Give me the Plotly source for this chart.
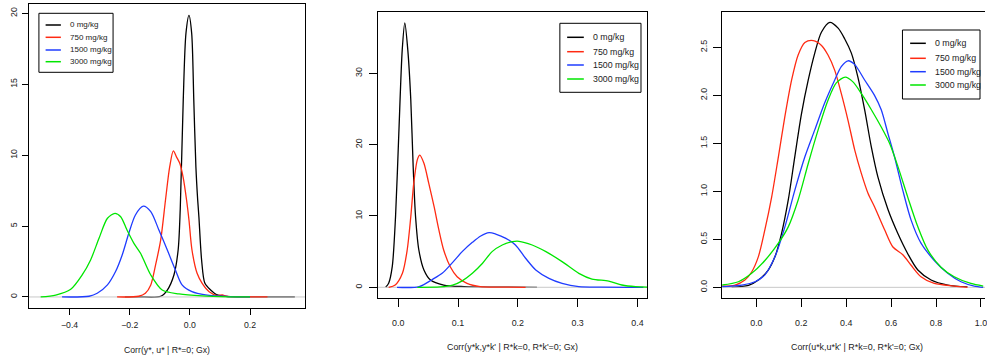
import plotly.graph_objects as go

# ---------------- data ----------------
doses = ["0 mg/kg", "750 mg/kg", "1500 mg/kg", "3000 mg/kg"]
colors = ["#000000", "#FF2A12", "#1F3CFF", "#00E600"]

# Panel 1: Corr(y*, u* | R*=0; Gx)
p1_x_0 = [-0.216, -0.170, -0.097, -0.075, -0.053, -0.039, -0.032, -0.022, -0.013, -0.003, 0.006, 0.013, 0.020, 0.026, 0.030, 0.039, 0.050, 0.069, 0.091, 0.132, 0.25, 0.349]
p1_y_0 = [0, 0.01, 0.05, 0.49, 1.55, 3.31, 6.2, 13.9, 18.6, 19.86, 18.6, 13.9, 9.19, 6.84, 5.66, 2.61, 0.96, 0.49, 0.14, 0.02, 0.01, 0]
p1_x_750 = [-0.242, -0.170, -0.148, -0.130, -0.114, -0.097, -0.081, -0.067, -0.055, -0.045, -0.033, -0.022, -0.011, -0.003, 0.007, 0.024, 0.041, 0.064, 0.091, 0.108, 0.120, 0.14, 0.20, 0.258]
p1_y_750 = [0, 0.05, 0.26, 0.85, 2.26, 4.02, 6.84, 9.19, 10.30, 9.9, 9.4, 8.4, 6.84, 5.43, 3.31, 1.67, 0.96, 0.37, 0.10, 0.15, 0.05, 0.02, 0.01, 0]
p1_x_1500 = [-0.425, -0.335, -0.308, -0.274, -0.247, -0.225, -0.203, -0.181, -0.155, -0.130, -0.103, -0.075, -0.048, -0.026, 0.007, 0.052, 0.132, 0.20]
p1_y_1500 = [0, 0.05, 0.26, 0.85, 1.79, 2.96, 4.49, 5.78, 6.40, 6.02, 4.72, 3.31, 1.90, 0.85, 0.37, 0.14, 0.02, 0]
p1_x_3000 = [-0.496, -0.446, -0.396, -0.358, -0.330, -0.302, -0.274, -0.249, -0.230, -0.209, -0.186, -0.164, -0.130, -0.092, -0.036, 0.041, 0.132, 0.20]
p1_y_3000 = [0, 0.13, 0.54, 1.55, 2.61, 4.14, 5.55, 5.90, 5.66, 4.72, 3.78, 3.08, 1.55, 0.49, 0.21, 0.07, 0.01, 0]

# Panel 2: Corr(y*k,y*k' | R*k=0, R*k'=0; Gx)
p2_x_0 = [-0.021, -0.016, -0.010, -0.0045, 0.001, 0.0067, 0.011, 0.016, 0.021, 0.025, 0.029, 0.0345, 0.043, 0.054, 0.076, 0.11, 0.17, 0.232]
p2_y_0 = [0, 0.56, 2.89, 9.9, 21.6, 33.3, 37.1, 33.3, 26.3, 16.9, 9.9, 5.23, 2.43, 1.02, 0.32, 0.1, 0.03, 0]
p2_x_750 = [-0.016, -0.005, 0.007, 0.015, 0.021, 0.026, 0.032, 0.036, 0.043, 0.051, 0.060, 0.068, 0.076, 0.087, 0.0985, 0.115, 0.137, 0.17, 0.213]
p2_y_750 = [0, 0.32, 1.96, 5.23, 9.9, 14.6, 17.9, 18.55, 17.4, 14.6, 11.3, 8.04, 5.23, 2.89, 1.49, 0.56, 0.1, 0.03, 0]
p2_x_1500 = [-0.002, 0.035, 0.057, 0.074, 0.091, 0.107, 0.124, 0.138, 0.152, 0.163, 0.180, 0.196, 0.213, 0.230, 0.252, 0.274, 0.302, 0.34, 0.41]
p2_y_1500 = [0, 0.1, 1.1, 2.0, 3.5, 5.0, 6.3, 7.2, 7.66, 7.47, 6.87, 5.93, 4.07, 2.43, 1.26, 0.56, 0.1, 0.02, 0]
p2_x_3000 = [0.032, 0.070, 0.091, 0.107, 0.124, 0.141, 0.157, 0.174, 0.191, 0.202, 0.224, 0.247, 0.274, 0.302, 0.324, 0.352, 0.374, 0.397, 0.419]
p2_y_3000 = [0, 0.05, 0.3, 0.9, 1.96, 3.37, 5.0, 5.93, 6.4, 6.45, 5.93, 5.0, 3.6, 1.96, 1.16, 0.88, 0.32, 0.08, 0.02]

# Panel 3: Corr(u*k,u*k' | R*k=0, R*k'=0; Gx)
p3_x_0 = [-0.11, -0.035, 0.009, 0.053, 0.083, 0.112, 0.142, 0.171, 0.201, 0.231, 0.260, 0.290, 0.327, 0.364, 0.393, 0.423, 0.452, 0.482, 0.512, 0.541, 0.586, 0.630, 0.674, 0.719, 0.778, 0.852, 0.94]
p3_y_0 = [0, 0.02, 0.076, 0.18, 0.32, 0.56, 0.91, 1.36, 1.81, 2.16, 2.44, 2.66, 2.76, 2.70, 2.59, 2.44, 2.19, 1.85, 1.46, 1.15, 0.81, 0.56, 0.35, 0.18, 0.076, 0.024, 0.005]
p3_x_750 = [-0.154, -0.095, -0.051, -0.021, 0.009, 0.038, 0.068, 0.098, 0.127, 0.157, 0.186, 0.216, 0.253, 0.290, 0.319, 0.349, 0.378, 0.408, 0.438, 0.467, 0.497, 0.526, 0.571, 0.608, 0.652, 0.689, 0.733, 0.792, 0.881, 0.94]
p3_y_750 = [0.013, 0.024, 0.076, 0.16, 0.32, 0.60, 0.94, 1.36, 1.78, 2.16, 2.42, 2.55, 2.57, 2.52, 2.42, 2.26, 2.02, 1.74, 1.43, 1.19, 0.98, 0.84, 0.60, 0.42, 0.34, 0.23, 0.11, 0.04, 0.013, 0]
p3_x_1500 = [-0.154, -0.065, -0.006, 0.038, 0.083, 0.127, 0.171, 0.216, 0.260, 0.304, 0.349, 0.378, 0.408, 0.438, 0.482, 0.526, 0.556, 0.586, 0.615, 0.652, 0.689, 0.733, 0.792, 0.852, 0.911, 0.970, 1.01]
p3_y_1500 = [0.008, 0.024, 0.058, 0.13, 0.32, 0.63, 1.01, 1.36, 1.64, 1.92, 2.16, 2.30, 2.36, 2.32, 2.16, 2.00, 1.85, 1.60, 1.36, 1.01, 0.70, 0.46, 0.28, 0.146, 0.058, 0.013, 0]
p3_x_3000 = [-0.154, -0.080, -0.021, 0.038, 0.098, 0.142, 0.186, 0.231, 0.275, 0.319, 0.356, 0.396, 0.430, 0.467, 0.512, 0.556, 0.593, 0.630, 0.674, 0.719, 0.763, 0.822, 0.881, 0.955, 1.01]
p3_y_3000 = [0.024, 0.058, 0.146, 0.28, 0.46, 0.63, 0.91, 1.29, 1.64, 1.95, 2.13, 2.19, 2.14, 2.02, 1.85, 1.67, 1.50, 1.26, 0.94, 0.63, 0.39, 0.21, 0.11, 0.04, 0.013]

x_titles = ["Corr(y*, u* | R*=0; Gx)",
            "Corr(y*k,y*k' | R*k=0, R*k'=0; Gx)",
            "Corr(u*k,u*k' | R*k=0, R*k'=0; Gx)"]
x_ticks = [[-0.4, -0.2, 0.0, 0.2], [0.0, 0.1, 0.2, 0.3, 0.4], [0.0, 0.2, 0.4, 0.6, 0.8, 1.0]]
y_ticks = [[0, 5, 10, 15, 20], [0, 10, 20, 30], [0.0, 0.5, 1.0, 1.5, 2.0, 2.5]]
y_fmt = ["d", "d", ".1f"]

series = [
    [(p1_x_0, p1_y_0), (p1_x_750, p1_y_750), (p1_x_1500, p1_y_1500), (p1_x_3000, p1_y_3000)],
    [(p2_x_0, p2_y_0), (p2_x_750, p2_y_750), (p2_x_1500, p2_y_1500), (p2_x_3000, p2_y_3000)],
    [(p3_x_0, p3_y_0), (p3_x_750, p3_y_750), (p3_x_1500, p3_y_1500), (p3_x_3000, p3_y_3000)],
]

# ---------------- layout geometry (pixels) ----------------
W, H = 987, 360
FONT = "Liberation Sans, Arial, Helvetica, sans-serif"
TXT = "#222222"

panels = [
    dict(box=(29, 4.3, 306, 308.3), xr=(-0.535, 0.384), yr=(-0.80, 20.64), fs=8.7, lfs=8.0,
         tl=6, xso=2, yso=1,
         leg=dict(box=(39, 13.3, 113.3, 72.3), ys=(25, 37.3, 50, 61.7), lx=(45.7, 61), tx=67.7),
         title=(167.8, 350), ymirror=True),
    dict(box=(378.3, 12.3, 648.3, 297.7), xr=(-0.0346, 0.416), yr=(-1.46, 38.57), fs=8.9, lfs=8.8,
         tl=8, xso=9, yso=3,
         leg=dict(box=(561, 23.3, 642.3, 92.3), ys=(37.3, 51.7, 65, 79), lx=(568.3, 585), tx=592.3),
         title=(513.3, 346.7), ymirror=True),
    dict(box=(723.7, 12.3, 987, 297.7), xr=(-0.152, 1.018), yr=(-0.108, 2.865), fs=8.9, lfs=8.8,
         tl=8, xso=9, yso=3,
         leg=dict(box=(904.3, 30, 982, 99), ys=(43.3, 58.3, 71.7, 85), lx=(912, 927.7), tx=935.3),
         title=(858.7, 346.7), ymirror=False),
]

def fx(px):
    return px / W

def fy(py):
    return 1 - py / H

fig = go.Figure()
shapes = []
annotations = []

for i, p in enumerate(panels):
    sfx = "" if i == 0 else str(i + 1)
    xa, ya = "x" + sfx, "y" + sfx
    curves = series[i]
    order = [0, "zero", 1, 2, 3]
    for k in order:
        if k == "zero":
            fig.add_trace(go.Scatter(x=list(p["xr"]), y=[0, 0], mode="lines",
                                     line=dict(color="#C8C8C8", width=1),
                                     hoverinfo="skip", showlegend=False, xaxis=xa, yaxis=ya))
            continue
        cx, cy = curves[k]
        fig.add_trace(go.Scatter(x=cx, y=cy, mode="lines", name=doses[k],
                                 line=dict(color=colors[k], width=1.3, shape="spline", smoothing=0.8),
                                 showlegend=False, xaxis=xa, yaxis=ya))

    x0, y0, x1, y1 = p["box"]
    axis_common = dict(showgrid=False, zeroline=False, showline=True, linecolor="black", linewidth=1,
                       ticks="outside", ticklen=p["tl"], tickwidth=1, tickcolor="black",
                       ticklabeloverflow="allow",
                       tickfont=dict(family=FONT, size=p["fs"], color=TXT))
    fig.update_layout(**{
        "xaxis" + sfx: dict(domain=[fx(x0), fx(x1)], range=list(p["xr"]), anchor=ya,
                            tickvals=x_ticks[i], tickformat=".1f", mirror=True,
                            ticklabelstandoff=p["xso"], **axis_common),
        "yaxis" + sfx: dict(domain=[fy(y1), fy(y0)], range=list(p["yr"]), anchor=xa,
                            tickvals=y_ticks[i], tickformat=y_fmt[i], tickangle=-90,
                            mirror=p["ymirror"], ticklabelstandoff=p["yso"], **axis_common),
    })

    # axis title
    tx, ty = p["title"]
    annotations.append(dict(x=fx(tx), y=fy(ty), xref="paper", yref="paper", text=x_titles[i],
                            showarrow=False, xanchor="center", yanchor="middle",
                            font=dict(family=FONT, size=p["fs"], color=TXT)))

    # legend box
    lg = p["leg"]
    bx0, by0, bx1, by1 = lg["box"]
    shapes.append(dict(type="rect", xref="paper", yref="paper", x0=fx(bx0), x1=fx(bx1),
                       y0=fy(by1), y1=fy(by0), line=dict(color="black", width=1), fillcolor="white"))
    for k, ly in enumerate(lg["ys"]):
        shapes.append(dict(type="line", xref="paper", yref="paper", x0=fx(lg["lx"][0]), x1=fx(lg["lx"][1]),
                           y0=fy(ly), y1=fy(ly), line=dict(color=colors[k], width=1.5)))
        annotations.append(dict(x=fx(lg["tx"]), y=fy(ly), xref="paper", yref="paper", text=doses[k],
                                showarrow=False, xanchor="left", yanchor="middle",
                                font=dict(family=FONT, size=p["lfs"], color=TXT)))

fig.update_layout(width=W, height=H, margin=dict(l=0, r=0, t=0, b=0),
                  paper_bgcolor="white", plot_bgcolor="white", showlegend=False,
                  shapes=shapes, annotations=annotations)

fig.write_html("out.html")
